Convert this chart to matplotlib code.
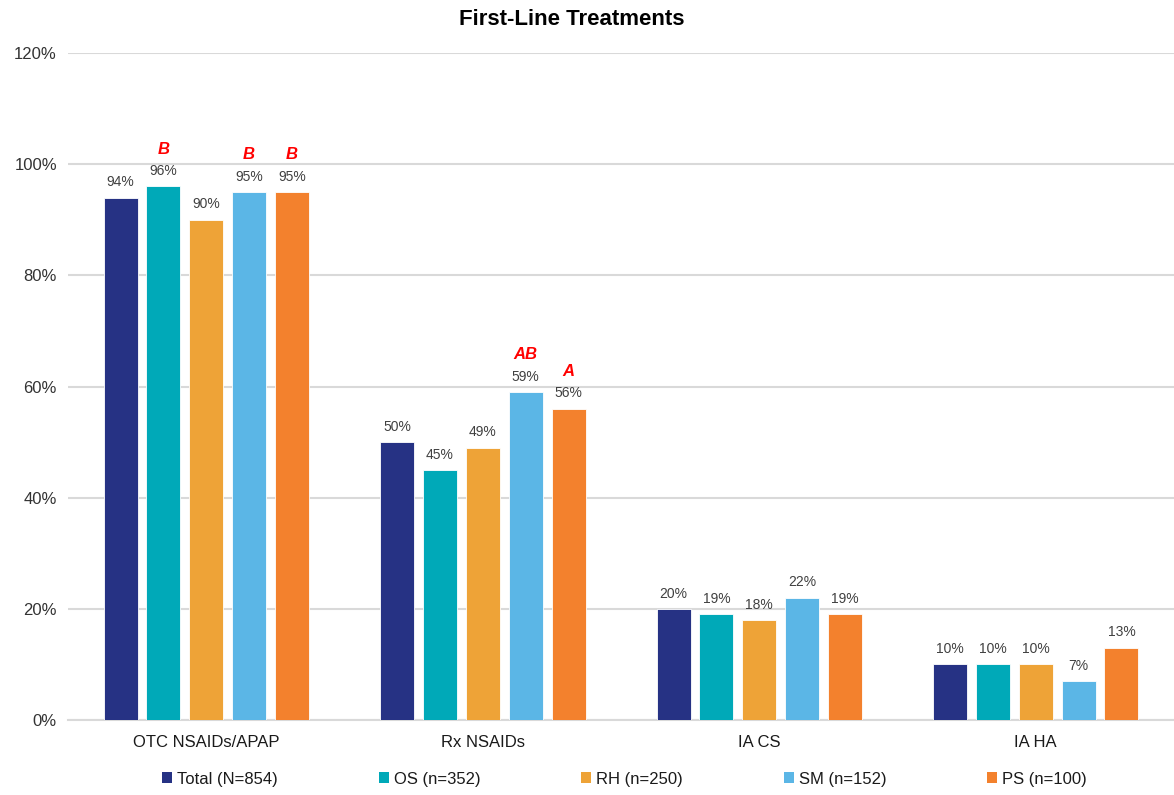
import matplotlib.pyplot as plt
import numpy as np
from matplotlib.patches import Patch

plt.rcParams['font.family'] = ['Liberation Sans', 'DejaVu Sans']

categories = ["OTC NSAIDs/APAP", "Rx NSAIDs", "IA CS", "IA HA"]
series_names = ["Total (N=854)", "OS (n=352)", "RH (n=250)", "SM (n=152)", "PS (n=100)"]
total = [94, 50, 20, 10]
os_vals = [96, 45, 19, 10]
rh_vals = [90, 49, 18, 10]
sm_vals = [95, 59, 22, 7]
ps_vals = [95, 56, 19, 13]
# significance letters per series, per category
sig_total = ["", "", "", ""]
sig_os = ["B", "", "", ""]
sig_rh = ["", "", "", ""]
sig_sm = ["B", "AB", "", ""]
sig_ps = ["B", "A", "", ""]
yticks = [0, 20, 40, 60, 80, 100, 120]

series = [total, os_vals, rh_vals, sm_vals, ps_vals]
sigs = [sig_total, sig_os, sig_rh, sig_sm, sig_ps]
colors = ["#263284", "#00A9B8", "#EEA337", "#5BB6E6", "#F3812D"]

fig = plt.figure(figsize=(11.74, 7.95), dpi=100)
ax = fig.add_axes([0.058, 0.0943, 0.942, 0.839])

x = np.arange(len(categories))
step = 0.155
width = 0.123
for i, (vals, col, sg) in enumerate(zip(series, colors, sigs)):
    pos = x + (i - 2) * step
    ax.bar(pos, vals, width=width, color=col, edgecolor="white", linewidth=0.6, zorder=3)
    for p, v, s in zip(pos, vals, sg):
        ax.annotate(f"{v}%", (p, v), xytext=(0, 6), textcoords="offset points",
                    ha="center", va="bottom", fontsize=10, color="#404040")
        if s:
            ax.annotate(s, (p, v), xytext=(0, 21.5), textcoords="offset points",
                        ha="center", va="bottom", fontsize=12, color="#FF0000",
                        fontweight="bold", fontstyle="italic")

ax.set_xlim(-0.5, 3.5)
ax.set_ylim(0, 120)
ax.set_yticks(yticks)
ax.set_yticklabels([f"{t}%" for t in yticks], fontsize=12, color="#333333")
ax.set_xticks(x)
ax.set_xticklabels(categories, fontsize=12, color="#1a1a1a")
ax.tick_params(axis="both", length=0, pad=8)
ax.tick_params(axis="x", pad=11)
ax.yaxis.grid(True, color="#d9d9d9", linewidth=1.5, zorder=0)
ax.set_axisbelow(True)
for sp in ["top", "right", "left"]:
    ax.spines[sp].set_visible(False)
ax.spines["bottom"].set_color("#d9d9d9")
ax.spines["bottom"].set_linewidth(1.5)

fig.text(0.4872, 0.976, "First-Line Treatments", ha="center", va="center",
         fontsize=16, fontweight="bold", color="#000000")

handles = [Patch(facecolor=c, edgecolor="none") for c in colors]
fig.legend(handles, series_names, loc="center", bbox_to_anchor=(0.532, 0.02),
           ncol=5, frameon=False, fontsize=12, handlelength=0.6, handleheight=0.6,
           handletextpad=0.3, columnspacing=6.05, labelcolor="#1a1a1a")

fig.savefig("out.png", dpi=100)
